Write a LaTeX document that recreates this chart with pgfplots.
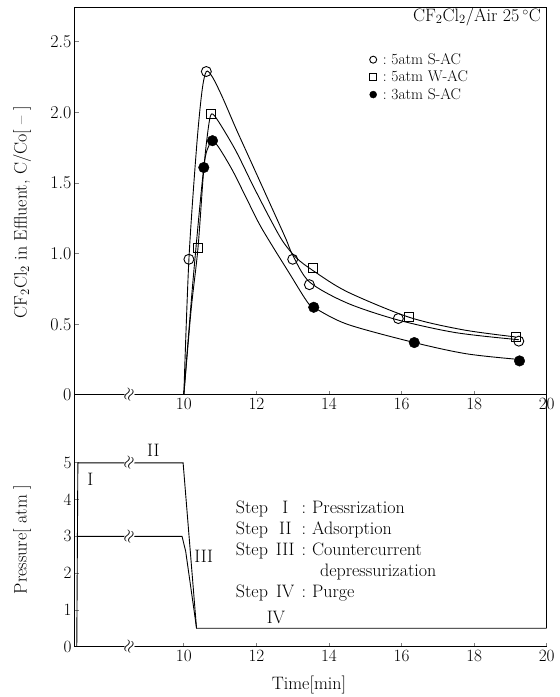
\documentclass[border=0pt]{standalone}
\usepackage{pgfplots}
\pgfplotsset{compat=1.18}
\newcommand\ff{\fontsize{18bp}{21bp}\selectfont}
\newcommand\legfont{\fontsize{15.5bp}{15.5bp}\selectfont}
\begin{document}
\begin{tikzpicture}[font=\ff]
\pgfplotsset{every axis/.append style={
  scale only axis, width=472bp, xmin=7, xmax=20, xtick={10,12,...,20},
  tick pos=left, tick align=inside, major tick length=4bp,
  axis line style={line width=1bp}, tick style={line width=0.8bp},
  every tick label/.append style={font=\ff},
  clip mode=individual}}
% top panel: effluent concentration
\begin{axis}[at={(0,0)}, anchor=south west, height=387bp,
  ymin=0, ymax=2.74, ytick={0,0.5,1,1.5,2,2.5},
  yticklabels={0,0.5,1.0,1.5,2.0,2.5},
  ylabel={\ff CF\textsubscript{2}Cl\textsubscript{2} in Effluent, C/Co[ -- ]},
  every axis y label/.style={at={(axis description cs:-0.112,0.472)}, anchor=center, rotate=90},
  legend style={draw=none, fill=none, at={(rel axis cs:0.618,0.892)}, anchor=north west,
    font=\legfont, row sep=2bp, nodes={font=\legfont, inner sep=1.5bp}},
  legend cell align=left,
  legend image post style={mark size=3.5bp}]
\addplot[line width=0.9bp, smooth, forget plot] coordinates {
  (10.0,0) (10.14,0.96) (10.35,1.75) (10.5,2.15) (10.62,2.29) (10.79,2.25)
  (11.06,2.11) (11.43,1.89) (11.8,1.68) (12.17,1.47) (12.54,1.26) (12.82,1.10)
  (13.0,0.99) (13.46,0.80) (14.5,0.65) (15.9,0.53) (17.5,0.44) (19.23,0.39)};
\addplot[line width=0.9bp, smooth, forget plot] coordinates {
  (10.0,0) (10.2,0.6) (10.39,1.04) (10.55,1.6) (10.68,1.9) (10.77,1.99)
  (10.97,1.93) (11.43,1.73) (11.89,1.49) (12.35,1.26) (12.72,1.09) (13.1,0.97)
  (13.56,0.88) (14.5,0.73) (16.2,0.55) (17.7,0.46) (19.14,0.41)};
\addplot[line width=0.9bp, smooth, forget plot] coordinates {
  (10.0,0) (10.25,0.8) (10.55,1.61) (10.7,1.77) (10.79,1.80) (10.97,1.75)
  (11.34,1.59) (11.71,1.40) (12.08,1.21) (12.45,1.05) (12.91,0.86) (13.37,0.67)
  (13.58,0.62) (14.5,0.50) (16.35,0.37) (17.8,0.29) (19.25,0.25)};
\addplot[only marks, mark=o, mark size=5bp, mark options={fill=white, line width=0.9bp}]
  coordinates {(10.14,0.96) (10.62,2.29) (13.0,0.96) (13.46,0.78) (15.91,0.54) (19.23,0.38)};
\addlegendentry{\legfont\ :\ 5atm S-AC}
\addplot[only marks, mark=square, mark size=4.5bp, mark options={fill=white, line width=0.9bp}]
  coordinates {(10.39,1.04) (10.76,1.99) (13.56,0.90) (16.2,0.55) (19.14,0.41)};
\addlegendentry{\legfont\ :\ 5atm W-AC}
\addplot[only marks, mark=*, mark size=5.3bp, mark options={fill=black}]
  coordinates {(10.55,1.61) (10.79,1.80) (13.58,0.62) (16.35,0.37) (19.25,0.24)};
\addlegendentry{\legfont\ :\ 3atm S-AC}
\node[anchor=east, font=\ff] at (rel axis cs:0.995,0.977) {CF\textsubscript{2}Cl\textsubscript{2}/Air 25\,$^\circ$C};
\node[fill=white, inner sep=0.5bp, rotate=70, font=\ff] at (axis cs:8.5,0) {$\approx$};
\end{axis}
% bottom panel: pressure schedule
\begin{axis}[at={(0,-252bp)}, anchor=south west, height=252bp,
  ymin=0, ymax=6.85, ytick={0,1,2,3,4,5},
  axis x line*=bottom, axis y line*=left,
  xlabel={\ff Time[min]}, ylabel={\ff Pressure[ atm ]},
  every axis y label/.style={at={(axis description cs:-0.112,0.425)}, anchor=center, rotate=90},
  every axis x label/.style={at={(axis description cs:0.496,-0.151)}, anchor=center}]
\addplot[line width=0.9bp] coordinates {(7.05,0) (7.08,5) (9.98,5) (10.35,0.5) (20,0.5)};
\addplot[line width=0.9bp] coordinates {(7.07,3) (9.95,3) (10.05,2.6) (10.28,1.0) (10.35,0.5)};
\draw[line width=1bp] (axis cs:20,0.5) -- (axis cs:20,6.85);
\node[fill=white, inner sep=0.5bp, rotate=70, font=\ff] at (axis cs:8.5,0) {$\approx$};
\node[fill=white, inner sep=0.5bp, rotate=70, font=\ff] at (axis cs:8.5,5) {$\approx$};
\node[fill=white, inner sep=0.5bp, rotate=70, font=\ff] at (axis cs:8.5,3) {$\approx$};
\node[font=\ff] at (axis cs:7.42,4.54) {I};
\node[font=\ff] at (axis cs:9.16,5.35) {II};
\node[font=\ff] at (axis cs:10.55,2.45) {III};
\node[font=\ff] at (axis cs:12.54,0.8) {IV};
\node[anchor=base west, inner sep=0pt, font=\ff] at (axis cs:11.43,3.61) {%
  \begin{tabular}[t]{@{}l@{\hspace{8bp}}c@{\hspace{7bp}}l@{\hspace{6bp}}l@{}}
  Step & I & : & Pressrization\\
  Step & II & : & Adsorption\\
  Step & III & : & Countercurrent\\
   & & & \hspace{8bp}depressurization\\
  Step & IV & : & Purge
  \end{tabular}};
\end{axis}
\path[use as bounding box] (-75bp,-302bp) rectangle (485bp,395bp);
\end{tikzpicture}
\end{document}
